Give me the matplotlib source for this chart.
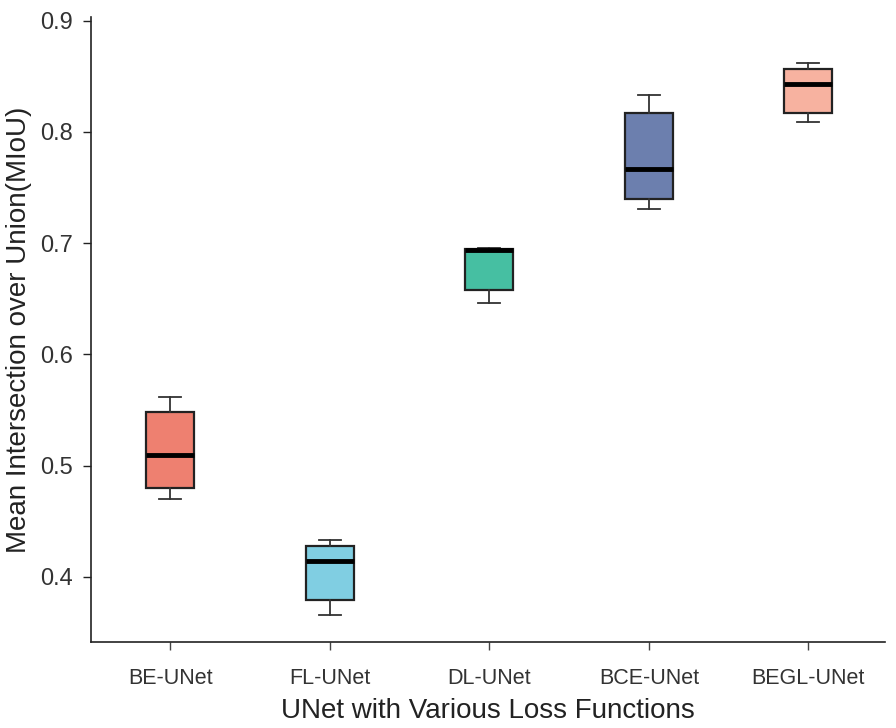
import matplotlib
matplotlib.use("Agg")
import matplotlib.pyplot as plt

# box statistics (MIoU)
models = ["BE-UNet", "FL-UNet", "DL-UNet", "BCE-UNet", "BEGL-UNet"]
whislo = [0.470, 0.366, 0.646, 0.731, 0.809]
q1 = [0.480, 0.379, 0.658, 0.740, 0.817]
med = [0.510, 0.414, 0.694, 0.767, 0.843]
q3 = [0.548, 0.428, 0.695, 0.817, 0.857]
whishi = [0.562, 0.433, 0.696, 0.833, 0.862]
colors = ["#EE8070", "#80CEE2", "#46BFA2", "#6C7FAE", "#F7B2A0"]

plt.rcParams["font.family"] = ["Liberation Sans", "DejaVu Sans"]

stats = []
for i in range(len(models)):
    stats.append({"label": models[i], "whislo": whislo[i], "q1": q1[i],
                  "med": med[i], "q3": q3[i], "whishi": whishi[i], "fliers": []})

fig = plt.figure(figsize=(8.96, 7.28), dpi=100)
ax = fig.add_axes([0.1016, 0.1181, 0.886, 0.8585])

bp = ax.bxp(stats, positions=range(1, 6), widths=0.3, capwidths=0.14,
            showfliers=False, patch_artist=True,
            boxprops=dict(edgecolor="#222222", linewidth=1.6),
            medianprops=dict(color="black", linewidth=3.5),
            whiskerprops=dict(color="#333333", linewidth=1.3),
            capprops=dict(color="#333333", linewidth=1.3))
for patch, c in zip(bp["boxes"], colors):
    patch.set_facecolor(c)

ax.set_xlim(0.503, 5.48)
ax.set_ylim(0.3415, 0.9033)
ax.set_yticks([0.4, 0.5, 0.6, 0.7, 0.8, 0.9])
ax.set_yticklabels(["0.4", "0.5", "0.6", "0.7", "0.8", "0.9"])
ax.spines["top"].set_visible(False)
ax.spines["right"].set_visible(False)
ax.spines["left"].set_color("#222222")
ax.spines["bottom"].set_color("#222222")
ax.spines["left"].set_linewidth(1.2)
ax.spines["bottom"].set_linewidth(1.2)
ax.tick_params(axis="y", labelsize=17, length=6, width=1, colors="#222222", labelcolor="#333333", pad=7)
ax.tick_params(axis="x", labelsize=15.5, length=6, width=1, colors="#444444", labelcolor="#333333", pad=13)

ax.set_xlabel("UNet with Various Loss Functions", fontsize=20, color="#222222", labelpad=6)
ax.set_ylabel("Mean Intersection over Union(MIoU)", fontsize=20, color="#222222", labelpad=6)

plt.savefig("out.png", dpi=100)
